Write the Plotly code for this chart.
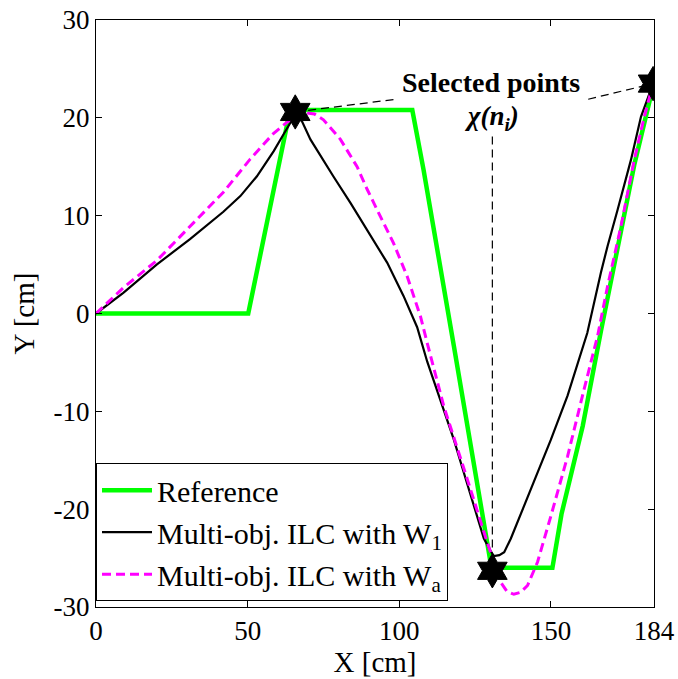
import plotly.graph_objects as go

# Reference trajectory (piecewise linear)
ref_x = [0, 50.2, 64.0, 104.3, 108.0, 113.6, 118.0, 130.4, 150.5, 153.5, 160.5, 166.5, 173.0, 177.5, 184.0]
ref_y = [0, 0.0, 20.8, 20.8, 14.7, 4.8, -3.3, -26.0, -26.0, -20.5, -11.5, -1.8, 8.4, 15.2, 23.6]

# Multi-objective ILC output with weighting W1
w1_x = [0, 9.0, 20, 31, 42, 47.6, 53, 58.6, 62, 64.1, 65.7, 68, 70.7, 74, 78.3, 83.9, 90.5,
        96, 101.4, 105.9, 109.2, 113.6, 118, 122.5, 127.9, 130.2, 131.2, 133, 134.6, 136.8,
        139, 142, 145.6, 150, 155.5, 162, 166.5, 168.7, 172, 176.4, 179.7, 183.7]
w1_y = [0, 2.1, 5.0, 7.6, 10.4, 12.0, 14.0, 16.6, 18.4, 19.5, 20.5, 19.6, 17.8, 16.1, 14.0, 11.3, 7.9,
        5.2, 1.8, -1.4, -4.9, -8.8, -12.9, -17.5, -23.0, -24.3, -24.8, -24.7, -24.4, -23.0,
        -21.3, -19.0, -16.2, -12.9, -8.4, -2.0, 4.2, 6.9, 10.6, 15.7, 20.1, 23.5]

# Multi-objective ILC output with weighting Wa
wa_x = [0, 8.9, 20, 31, 42, 50.9, 58.5, 64, 66.5, 69.6, 72, 75, 80.6, 86.1, 89.4, 93.8, 98.1,
        102.6, 107, 109.2, 114.7, 122.4, 129, 133.5, 135.5, 137.8, 140, 142.3, 145.6, 150,
        155.5, 160.9, 165.4, 168.7, 173.1, 177.5, 180.8, 183.7]
wa_y = [0, 2.6, 5.4, 8.9, 12.4, 15.8, 18.4, 19.8, 20.4, 20.5, 20.4, 19.8, 17.8, 15.0, 12.7, 9.9, 7.2,
        3.8, -0.3, -3.0, -9.5, -16.9, -23.4, -27.5, -28.4, -28.7, -28.5, -27.8, -25.4, -20.7,
        -14.6, -7.8, -2.3, 2.8, 8.9, 15.7, 20.1, 23.5]

# Selected points chi(n_i)
sel_x = [65.7, 130.7, 183.7]
sel_y = [20.6, -26.3, 23.5]

x_ticks = [0, 50, 100, 150, 184]
y_ticks = [-30, -20, -10, 0, 10, 20, 30]
y_tick_text = ["-30", "-20", "-10", "0", "10", "20", "30"]

FONT = "Liberation Serif"

fig = go.Figure()
fig.add_trace(go.Scatter(x=ref_x, y=ref_y, mode="lines", name="Reference",
                         line=dict(color="#00ff00", width=4.5)))
fig.add_trace(go.Scatter(x=w1_x, y=w1_y, mode="lines", name="Multi-obj. ILC with W<sub>1</sub>",
                         line=dict(color="black", width=2.2)))
fig.add_trace(go.Scatter(x=wa_x, y=wa_y, mode="lines", name="Multi-obj. ILC with W<sub>a</sub>",
                         line=dict(color="#ff00ff", width=3, dash="9px,5px")))
fig.add_trace(go.Scatter(x=sel_x, y=sel_y, mode="markers", showlegend=False,
                         marker=dict(symbol="hexagram", size=26, color="black",
                                     line=dict(color="black", width=1))))

# Label for the selected points with dashed leaders
label_x = 130.4
fig.add_annotation(x=label_x, y=23.6, text="Selected points", showarrow=False,
                   font=dict(family=FONT, size=28, color="black", weight="bold"))
fig.add_annotation(x=label_x, y=20.0, text="χ(n<sub>i</sub>)", showarrow=False,
                   font=dict(family=FONT, size=27, color="black", weight="bold", style="italic"))
leader = dict(color="black", width=1.2, dash="8px,5px")
fig.add_shape(type="line", xref="x", yref="y", x0=sel_x[0], y0=sel_y[0], x1=98.9, y1=21.9, line=leader)
fig.add_shape(type="line", xref="x", yref="y", x0=162.3, y0=21.9, x1=sel_x[2], y1=sel_y[2], line=leader)
fig.add_shape(type="line", xref="x", yref="y", x0=sel_x[1], y0=18.1, x1=sel_x[1], y1=sel_y[1] + 1.5, line=leader)

axis_common = dict(showline=True, linecolor="black", linewidth=1, mirror="ticks",
                   ticks="inside", ticklen=6, tickcolor="black", showgrid=False, zeroline=False,
                   automargin=False,
                   tickfont=dict(family=FONT, size=27, color="black"))

fig.update_xaxes(range=[0, 184], tickvals=x_ticks, ticktext=[str(v) for v in x_ticks],
                 title=dict(text="X [cm]", font=dict(family=FONT, size=29, color="black"), standoff=4),
                 **axis_common)
fig.update_yaxes(range=[-30, 30], tickvals=y_ticks, ticktext=y_tick_text,
                 title=dict(text="Y [cm]", font=dict(family=FONT, size=29, color="black"), standoff=10),
                 **axis_common)

fig.update_layout(
    width=678, height=679,
    margin=dict(l=96, r=24, t=20, b=72),
    plot_bgcolor="white", paper_bgcolor="white",
    font=dict(family=FONT, color="black"),
    legend=dict(x=0, y=0.01, xanchor="left", yanchor="bottom",
                bgcolor="white", bordercolor="black", borderwidth=1,
                font=dict(family=FONT, size=30, color="black"),
                itemwidth=50, tracegroupgap=0),
)

fig.write_html("out.html")
